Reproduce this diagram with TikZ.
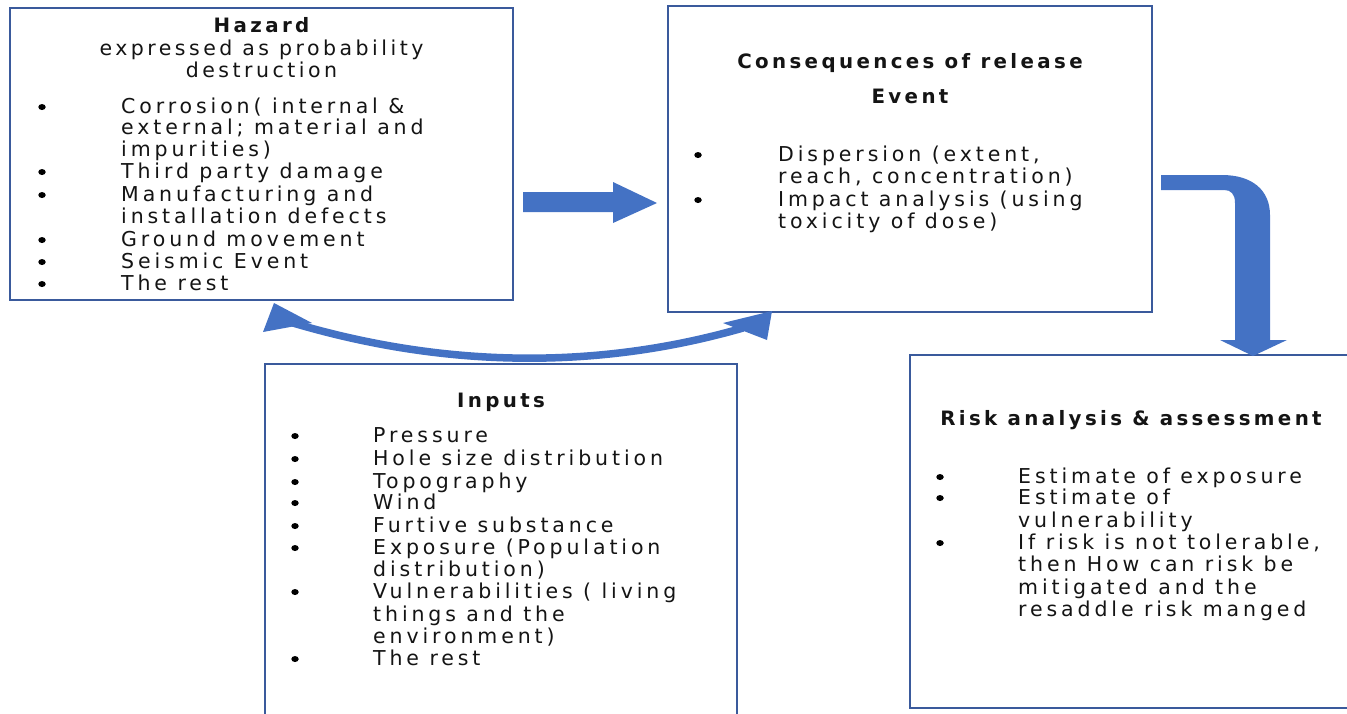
\documentclass[tikz,border=0pt]{standalone}
\usepackage{fontspec}
\setmainfont{DejaVu Sans}
\newfontfamily\spfont[LetterSpace=19]{DejaVu Sans}
\newfontfamily\ttfont[LetterSpace=17]{DejaVu Sans}
\definecolor{boxblue}{HTML}{3A5A9C}
\definecolor{arrblue}{HTML}{4472C4}
\definecolor{txtcol}{HTML}{141414}
\tikzset{
  box/.style={draw=boxblue, line width=1.8pt, inner sep=0pt, fill=white},
  txt/.style={font=\spfont\fontsize{20.5}{22}\selectfont, text=txtcol, inner sep=0pt, anchor=base west},
  ttl/.style={font=\ttfont\bfseries\fontsize{19.8}{22}\selectfont, text=txtcol, inner sep=0pt, anchor=base},
  sub/.style={font=\ttfont\fontsize{20.5}{22}\selectfont, text=txtcol, inner sep=0pt, anchor=base},
  bul/.style={ellipse, fill=black, inner sep=0pt, minimum width=7.5pt, minimum height=6pt},
  arr/.style={fill=arrblue, draw=none}
}
\usetikzlibrary{shapes.geometric}
\begin{document}
\begin{tikzpicture}[x=1pt,y=-1pt]
\useasboundingbox (0,0) rectangle (1347,713);
\clip (0,0) rectangle (1347,713);

% boxes
\node[box, minimum width=503pt, minimum height=292pt] (hazard) at (261.5,154) {};
\node[box, minimum width=484pt, minimum height=306pt] (cons) at (910,159) {};
\node[box, minimum width=472pt, minimum height=366pt] (inputs) at (501,547) {};
\node[box, minimum width=460pt, minimum height=353pt] (risk) at (1140,531.5) {};

% Hazard text
\node[ttl] (hz0) at (261.5,32) {Hazard};
\node[sub] (hz1) at (261.5,55) {expressed as probability};
\node[sub] (hz2) at (261.5,77) {destruction};
\node[bul] (hb1) at (42,107) {};
\node[bul] (hb2) at (42,172) {};
\node[bul] (hb3) at (42,195) {};
\node[bul] (hb4) at (42,240) {};
\node[bul] (hb5) at (42,262) {};
\node[bul] (hb6) at (42,284) {};
\node[txt] (ht1) at (121,113) {Corrosion( internal \&};
\node[txt] (ht2) at (121,134) {external; material and};
\node[txt] (ht3) at (121,156) {impurities)};
\node[txt] (ht4) at (121,178) {Third party damage};
\node[txt] (ht5) at (121,201) {Manufacturing and};
\node[txt] (ht6) at (121,223) {installation defects};
\node[txt] (ht7) at (121,246) {Ground movement};
\node[txt] (ht8) at (121,268) {Seismic Event};
\node[txt] (ht9) at (121,290) {The rest};

% Consequences text
\node[ttl] (cs0) at (910,68) {Consequences of release};
\node[ttl] (cs1) at (910,103) {Event};
\node[bul] (cb1) at (698,155) {};
\node[bul] (cb2) at (698,200) {};
\node[txt] (ct1) at (778,161) {Dispersion (extent,};
\node[txt] (ct2) at (778,183) {reach, concentration)};
\node[txt] (ct3) at (778,206) {Impact analysis (using};
\node[txt] (ct4) at (778,228) {toxicity of dose)};

% Inputs text
\node[ttl] (in0) at (501,407) {Inputs};
\node[bul] (ib1) at (295,436) {};
\node[bul] (ib2) at (295,459) {};
\node[bul] (ib3) at (295,482) {};
\node[bul] (ib4) at (295,503) {};
\node[bul] (ib5) at (295,526) {};
\node[bul] (ib6) at (295,548) {};
\node[bul] (ib7) at (295,592) {};
\node[bul] (ib8) at (295,659) {};
\node[txt] (it1) at (373,442) {Pressure};
\node[txt] (it2) at (373,465) {Hole size distribution};
\node[txt] (it3) at (373,488) {Topography};
\node[txt] (it4) at (373,509) {Wind};
\node[txt] (it5) at (373,532) {Furtive substance};
\node[txt] (it6) at (373,554) {Exposure (Population};
\node[txt] (it7) at (373,576) {distribution)};
\node[txt] (it8) at (373,598) {Vulnerabilities ( living};
\node[txt] (it9) at (373,621) {things and the};
\node[txt] (it10) at (373,643) {environment)};
\node[txt] (it11) at (373,665) {The rest};

% Risk text
\node[ttl] (rk0) at (1131,425) {Risk analysis \& assessment};
\node[bul] (rb1) at (940,477) {};
\node[bul] (rb2) at (940,498) {};
\node[bul] (rb3) at (940,543) {};
\node[txt] (rt1) at (1018,483) {Estimate of exposure};
\node[txt] (rt2) at (1018,504) {Estimate of};
\node[txt] (rt3) at (1018,527) {vulnerability};
\node[txt] (rt4) at (1018,549) {If risk is not tolerable,};
\node[txt] (rt5) at (1018,571) {then How can risk be};
\node[txt] (rt6) at (1018,594) {mitigated and the};
\node[txt] (rt7) at (1018,616) {resaddle risk manged};

% straight block arrow hazard -> consequences
\coordinate (sa0) at (523,202);
\coordinate (sa1) at (657,203);
\fill[arr] (sa0) ++(0,-10) -- (613,192) -- (613,182) -- (sa1) -- (613,223) -- (613,212) -- (523,212) -- cycle;

% bent block arrow consequences -> risk
\coordinate (ba0) at (1161,182);
\coordinate (ba1) at (1253,356);
\fill[arr] (1161,175) -- (1222,175) .. controls (1252,175) and (1270,190) .. (1270,215)
  -- (1270,340) -- (1287,340) -- (ba1) -- (1220,340) -- (1235,340) -- (1235,203)
  .. controls (1235,194) and (1231,190) .. (1224,190) -- (1161,190) -- cycle;

% curved double arrow hazard <-> consequences
\coordinate (cL) at (293,323);
\coordinate (cR) at (743,328);
\draw[arrblue, line width=7.5pt] (cL) .. controls (445,368) and (597,370) .. (cR);
\fill[arr] (274,303) -- (263,332) -- (312,323) -- cycle;
\fill[arr] (772,311) -- (723,323) -- (767,340) -- cycle;
\end{tikzpicture}
\end{document}
